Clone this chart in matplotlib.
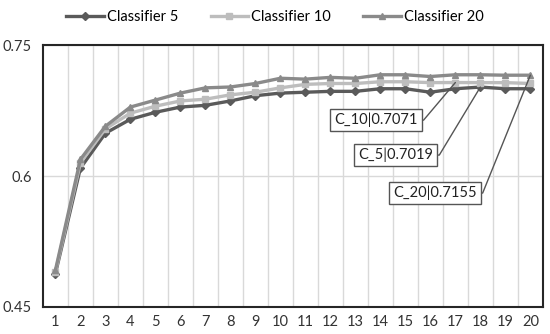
import numpy as np
import matplotlib.pyplot as plt

plt.rcParams['font.family'] = ['Lato', 'DejaVu Sans']

epochs = list(range(1, 21))
c5 = [0.488, 0.609, 0.649, 0.665, 0.673, 0.679, 0.681, 0.686, 0.692, 0.695,
      0.696, 0.697, 0.697, 0.700, 0.700, 0.696, 0.700, 0.7019, 0.700, 0.700]
c10 = [0.490, 0.615, 0.654, 0.672, 0.680, 0.686, 0.688, 0.693, 0.696, 0.701,
       0.705, 0.706, 0.706, 0.708, 0.708, 0.707, 0.7071, 0.707, 0.707, 0.706]
c20 = [0.492, 0.619, 0.657, 0.679, 0.687, 0.695, 0.701, 0.702, 0.706, 0.712,
       0.711, 0.713, 0.712, 0.716, 0.716, 0.714, 0.716, 0.716, 0.7155, 0.7155]

fig = plt.figure(figsize=(5.5, 3.34), dpi=100)
ax = fig.add_axes([0.078, 0.081, 0.909, 0.784])

ax.plot(epochs, c5, color='#5a5a5a', lw=2.4, marker='D', ms=4, label='Classifier 5', zorder=3)
ax.plot(epochs, c10, color='#bdbdbd', lw=2.4, marker='s', ms=4.5, label='Classifier 10', zorder=3)
ax.plot(epochs, c20, color='#8a8a8a', lw=2.4, marker='^', ms=5, label='Classifier 20', zorder=3)

ax.set_xlim(0.5, 20.5)
ax.set_ylim(0.45, 0.75)
ax.set_xticks(epochs)
ax.set_xticks(np.arange(1.5, 20, 1), minor=True)
ax.set_yticks([0.45, 0.6, 0.75])
ax.set_yticklabels(['0.45', '0.6', '0.75'])
ax.tick_params(which='both', length=0, labelsize=10.5, colors='#333333', pad=8)
ax.tick_params(axis='x', pad=6)
ax.grid(which='minor', axis='x', color='#d9d9d9', lw=1)
ax.grid(which='major', axis='y', color='#d9d9d9', lw=1)
for s in ax.spines.values():
    s.set_color('#262626')
    s.set_linewidth(1.5)

notes = [('C_10|0.7071', 17, c10[16], 13.82, 0.664),
         ('C_5|0.7019', 18, c5[17], 14.62, 0.624),
         ('C_20|0.7155', 20, c20[19], 16.18, 0.5805)]
for txt, xi, yi, tx, ty in notes:
    ax.annotate(txt, xy=(xi, yi), xytext=(tx, ty), ha='center', va='center',
                fontsize=10.5, color='#222222', zorder=4,
                bbox=dict(boxstyle='square,pad=0.28', fc='white', ec='#555555', lw=1),
                arrowprops=dict(arrowstyle='-', color='#555555', lw=1, relpos=(1, 0.5),
                                shrinkA=0, shrinkB=0,
                                connectionstyle='arc,angleA=0,armA=6,angleB=0,armB=0,rad=0'))

fig.legend(loc='upper center', bbox_to_anchor=(0.5, 1.01), ncol=3, frameon=False,
           fontsize=10.5, handlelength=2.6, columnspacing=2.2, handletextpad=0.2)

fig.savefig('out.png', dpi=100)
